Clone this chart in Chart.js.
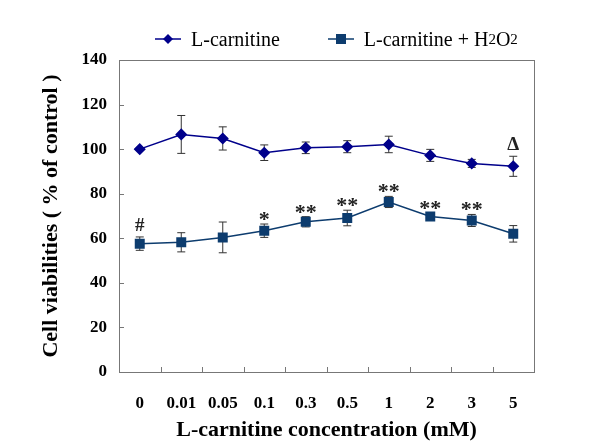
<!DOCTYPE html>
<html>
<head>
<meta charset="utf-8">
<script src="https://cdn.jsdelivr.net/npm/chart.js@4"></script>
<style>
  body { margin: 0; background: #fff; }
  #wrap { position: relative; width: 600px; height: 448px; }
  #legend { position: absolute; top: 27px; left: 155px; font: 20px "Liberation Serif", serif; color: #000; white-space: nowrap; }
  #legend .item { display: inline-flex; align-items: center; }
  #legend .item + .item { margin-left: 43px; }
  #legend svg { margin-right: 10px; }
  #legend sub { font-size: 15px; vertical-align: -2px; }
</style>
</head>
<body>
<div id="wrap">
  <canvas id="chart" width="600" height="448"></canvas>
  <div id="legend">
    <span class="item"><svg width="26" height="12"><line x1="0" y1="6" x2="26" y2="6" stroke="#00008b" stroke-width="1.5"/><polygon points="13,1 18,6 13,11 8,6" fill="#00008b"/></svg>L-carnitine</span>
    <span class="item"><svg width="26" height="12"><line x1="0" y1="6" x2="26" y2="6" stroke="#0d3c6e" stroke-width="1.5"/><rect x="8" y="1" width="10" height="10" fill="#0d3c6e"/></svg>L-carnitine + H<sub>2</sub>O<sub>2</sub></span>
  </div>
</div>
<script>
// values
const doses = ['0', '0.01', '0.05', '0.1', '0.3', '0.5', '1', '2', '3', '5'];
const carnitine = [100, 106.6, 104.8, 98.4, 100.6, 101.1, 102.1, 97.2, 93.6, 92.3];
const carnitineErr = [0, 8.5, 5.2, 3.5, 2.6, 2.7, 3.7, 2.7, 1.8, 4.5];
const h2o2 = [57.6, 58.2, 60.4, 63.4, 67.4, 69.1, 76.3, 69.8, 68.0, 62.0];
const h2o2Err = [3, 4.3, 6.9, 3, 2.3, 3.5, 2.5, 1.5, 2.7, 3.7];
const carnitineMarks = ['', '', '', '', '', '', '', '', '', 'Δ'];
const h2o2Marks = ['#', '', '', '*', '**', '**', '**', '**', '**', ''];

const errs = [carnitineErr, h2o2Err];
const marks = [carnitineMarks, h2o2Marks];

// error bars under the markers
const errorBars = {
    id: 'errorBars',
    beforeDatasetsDraw(chart) {
        const ctx = chart.ctx;
        const y = chart.scales.y;
        ctx.save();
        ctx.strokeStyle = '#333';
        ctx.lineWidth = 1;
        chart.data.datasets.forEach((ds, i) => {
            chart.getDatasetMeta(i).data.forEach((pt, j) => {
                const e = errs[i][j];
                if (!e) return;
                const top = y.getPixelForValue(ds.data[j] + e);
                const bot = y.getPixelForValue(ds.data[j] - e);
                ctx.beginPath();
                ctx.moveTo(pt.x, top); ctx.lineTo(pt.x, bot);
                ctx.moveTo(pt.x - 4, top); ctx.lineTo(pt.x + 4, top);
                ctx.moveTo(pt.x - 4, bot); ctx.lineTo(pt.x + 4, bot);
                ctx.stroke();
            });
        });
        ctx.restore();
    }
};

// frame, inward ticks and significance marks
const extras = {
    id: 'extras',
    afterDraw(chart) {
        const ctx = chart.ctx;
        const a = chart.chartArea;
        const x = chart.scales.x, y = chart.scales.y;
        ctx.save();
        ctx.strokeStyle = '#777';
        ctx.lineWidth = 1;
        ctx.strokeRect(a.left + 0.5, a.top + 0.5, a.right - a.left, a.bottom - a.top);
        ctx.beginPath();
        y.ticks.forEach((t, i) => {
            const py = Math.round(y.getPixelForTick(i)) + 0.5;
            ctx.moveTo(a.left, py); ctx.lineTo(a.left + 5, py);
        });
        for (let i = 1; i < doses.length; i++) {
            const px = Math.round((x.getPixelForValue(i - 1) + x.getPixelForValue(i)) / 2) + 0.5;
            ctx.moveTo(px, a.bottom); ctx.lineTo(px, a.bottom - 5);
        }
        ctx.stroke();

        ctx.fillStyle = '#222';
        ctx.textAlign = 'center';
        ctx.textBaseline = 'alphabetic';
        chart.data.datasets.forEach((ds, i) => {
            chart.getDatasetMeta(i).data.forEach((pt, j) => {
                const m = marks[i][j];
                if (!m) return;
                const top = y.getPixelForValue(ds.data[j] + errs[i][j]);
                if (m.startsWith('*')) {
                    ctx.font = 'bold 22px "Liberation Serif", serif';
                    ctx.fillText(m, pt.x, top + 2);
                } else {
                    ctx.font = 'bold 19px "Liberation Serif", serif';
                    ctx.fillText(m, pt.x, top - 6);
                }
            });
        });
        ctx.restore();
    }
};

const tickFont = { family: '"Liberation Serif", serif', size: 17, weight: 'bold' };
const titleFont = { family: '"Liberation Serif", serif', size: 22, weight: 'bold' };

new Chart(document.getElementById('chart'), {
    type: 'line',
    data: {
        labels: doses,
        datasets: [{
            label: 'L-carnitine',
            data: carnitine,
            borderColor: '#00008b',
            backgroundColor: '#00008b',
            borderWidth: 1.5,
            pointStyle: 'rectRot',
            pointRadius: 5,
            pointHoverRadius: 5
        }, {
            label: 'L-carnitine + H2O2',
            data: h2o2,
            borderColor: '#0d3c6e',
            backgroundColor: '#0d3c6e',
            borderWidth: 1.5,
            pointStyle: 'rect',
            pointRadius: 6,
            pointHoverRadius: 6
        }]
    },
    options: {
        responsive: false,
        animation: false,
        layout: { padding: { top: 60, right: 66, left: 0, bottom: 0 } },
        plugins: { legend: { display: false }, tooltip: { enabled: false } },
        scales: {
            x: {
                offset: true,
                grid: { display: false, drawTicks: false },
                border: { display: false },
                ticks: { color: '#000', font: tickFont, padding: 21 },
                title: { display: true, text: 'L-carnitine concentration (mM)', color: '#000', font: titleFont, padding: { top: 0 } },
                afterFit(s) { s.height = 76; }
            },
            y: {
                min: 0, max: 140,
                grid: { display: false, drawTicks: false },
                border: { display: false },
                ticks: { stepSize: 20, color: '#000', font: tickFont, padding: 12 },
                title: { display: true, text: 'Cell viabilities ( % of control )', color: '#000', font: titleFont, padding: { top: 38, bottom: 0 } },
                afterFit(s) { s.width = 119; }
            }
        }
    },
    plugins: [errorBars, extras]
});
</script>
</body>
</html>
